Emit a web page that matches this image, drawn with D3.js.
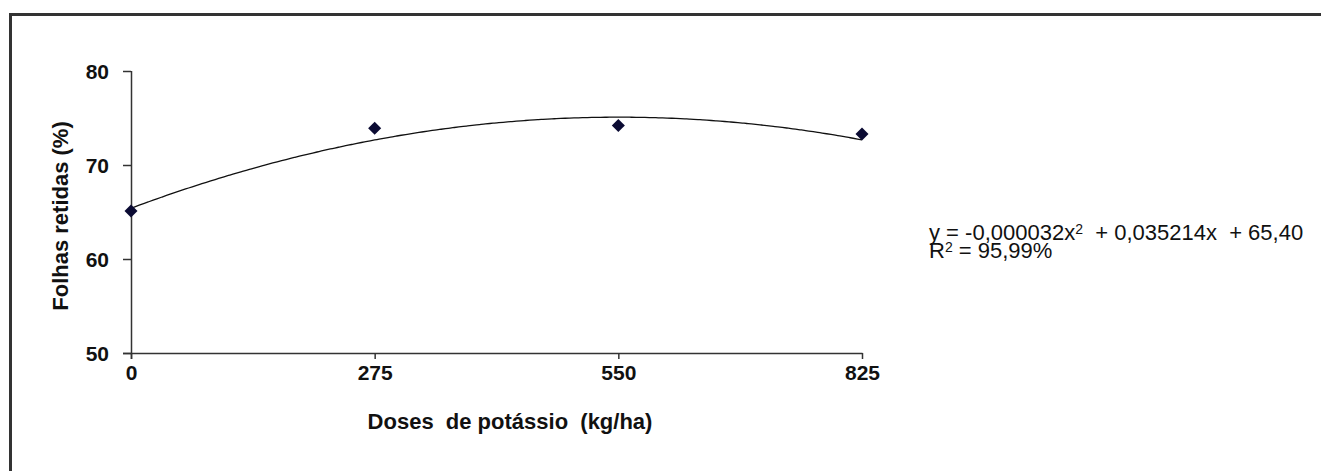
<!DOCTYPE html>
<html>
<head>
<meta charset="utf-8">
<script src="https://cdn.jsdelivr.net/npm/d3@7"></script>
<style>
  body { margin: 0; background: #fff; }
  svg { display: block; }
  text { font-family: "Liberation Sans", Arial, sans-serif; }
</style>
</head>
<body>
<div id="chart"></div>
<script>
const width = 1321
const height = 471

// data
const doses = [0, 275, 550, 825]
const retained = [65.1, 73.9, 74.2, 73.3]
const yTicks = [50, 60, 70, 80]
// fitted quadratic shown on the chart: y = a x^2 + b x + c
const coefA = -0.000032
const coefB = 0.035214
const coefC = 65.40
const eqLine1 = ["y = -0,000032x", "2", "  + 0,035214x  + 65,40"]
const eqLine2 = ["R", "2", " = 95,99%"]

const svg = d3
  .select("#chart")
  .append("svg")
  .attr("width", width)
  .attr("height", height)

// outer frame (right and bottom sides run off the picture)
svg
  .append("path")
  .attr("d", "M10.5," + height + "V14.5H" + width)
  .attr("fill", "none")
  .attr("stroke", "#333")
  .attr("stroke-width", 3)

const x = d3.scaleLinear().domain([0, 825]).range([131, 862])
const y = d3.scaleLinear().domain([50, 80]).range([353, 71])

const xAxis = svg
  .append("g")
  .attr("transform", "translate(0,353)")
  .call(d3.axisBottom(x).tickValues(doses).tickSize(6).tickSizeOuter(0).tickPadding(4))
xAxis.select(".domain").attr("d", "M123,0.5H862.5")

const yAxis = svg
  .append("g")
  .attr("transform", "translate(131,0)")
  .call(d3.axisLeft(y).tickValues(yTicks).tickSize(8).tickSizeOuter(0).tickPadding(14))
yAxis.select(".domain").attr("d", "M0.5,71V359")

svg.selectAll(".domain, .tick line").attr("stroke", "#333").attr("stroke-width", 1.5)
svg
  .selectAll(".tick text")
  .attr("fill", "#111")
  .attr("font-size", 21)
  .attr("font-weight", "bold")
  .attr("font-family", "'Liberation Sans', Arial, sans-serif")
xAxis.selectAll(".tick text").attr("dy", "0.8em")
yAxis.selectAll(".tick text").attr("dy", "0.35em")

// trend curve from the printed coefficients
const curveXs = d3.range(0, 826, 5)
const line = d3
  .line()
  .x((d) => x(d))
  .y((d) => y(coefA * d * d + coefB * d + coefC))
  .curve(d3.curveMonotoneX)

svg
  .append("path")
  .datum(curveXs)
  .attr("d", line)
  .attr("fill", "none")
  .attr("stroke", "#111")
  .attr("stroke-width", 1.3)

svg
  .append("g")
  .selectAll("path")
  .data(doses)
  .join("path")
  .attr("transform", (d, i) => "translate(" + x(d) + "," + y(retained[i]) + ") rotate(45)")
  .attr("d", d3.symbol().type(d3.symbolSquare).size(85))
  .attr("fill", "#0b0b33")

// axis titles
svg
  .append("text")
  .attr("x", 510)
  .attr("y", 429)
  .attr("text-anchor", "middle")
  .attr("font-size", 22)
  .attr("font-weight", "bold")
  .attr("fill", "#111")
  .style("white-space", "pre")
  .text("Doses  de potássio  (kg/ha)")

svg
  .append("text")
  .attr("transform", "translate(68,216) rotate(-90)")
  .attr("text-anchor", "middle")
  .attr("font-size", 22)
  .attr("font-weight", "bold")
  .attr("fill", "#111")
  .text("Folhas retidas (%)")

// equation label
function eqText(parts, yPos) {
  const t = svg
    .append("text")
    .attr("x", 929)
    .attr("y", yPos)
    .attr("font-size", 22)
    .attr("fill", "#111")
    .style("white-space", "pre")
  t.append("tspan").text(parts[0])
  t.append("tspan").attr("font-size", 14).attr("dy", -6).text(parts[1])
  t.append("tspan").attr("dy", 6).text(parts[2])
}
eqText(eqLine1, 240)
eqText(eqLine2, 258)
</script>
</body>
</html>
